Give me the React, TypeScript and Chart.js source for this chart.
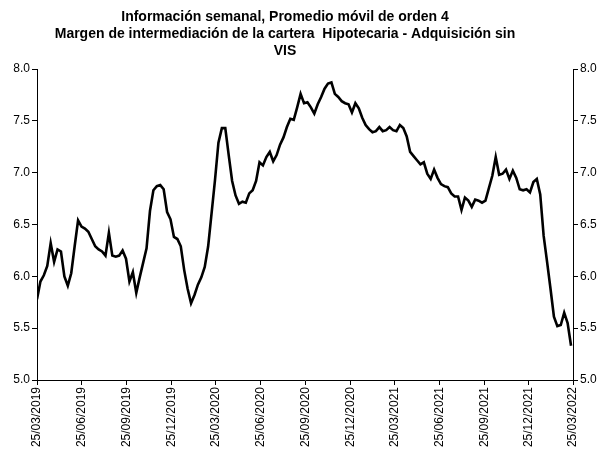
import React, { useEffect, useRef } from "react";
import { Chart, registerables } from "chart.js";

Chart.register(...registerables);

const titleLines = [
  "Información semanal, Promedio móvil de orden 4",
  "Margen de intermediación de la cartera  Hipotecaria - Adquisición sin",
  "VIS",
];

const startDate = "25/03/2019";

const tickLabels = [
  "25/03/2019", "25/06/2019", "25/09/2019", "25/12/2019",
  "25/03/2020", "25/06/2020", "25/09/2020", "25/12/2020",
  "25/03/2021", "25/06/2021", "25/09/2021", "25/12/2021",
  "25/03/2022",
];

const yTicks = [5.0, 5.5, 6.0, 6.5, 7.0, 7.5, 8.0];

// weekly values (moving average of order 4), starting 25/03/2019
const values = [
  5.78, 5.95, 6.01, 6.10, 6.32, 6.14, 6.26, 6.24, 6.00, 5.91,
  6.03, 6.29, 6.54, 6.48, 6.46, 6.43, 6.36, 6.29, 6.26, 6.24,
  6.20, 6.42, 6.20, 6.19, 6.20, 6.25, 6.17, 5.95, 6.04, 5.84,
  5.99, 6.13, 6.27, 6.63, 6.83, 6.87, 6.88, 6.84, 6.62, 6.55,
  6.38, 6.36, 6.29, 6.06, 5.88, 5.74, 5.82, 5.92, 5.99, 6.09,
  6.29, 6.61, 6.93, 7.29, 7.43, 7.43, 7.17, 6.92, 6.78, 6.70,
  6.72, 6.71, 6.80, 6.83, 6.92, 7.10, 7.07, 7.15, 7.20, 7.11,
  7.17, 7.27, 7.34, 7.44, 7.52, 7.51, 7.63, 7.76, 7.67, 7.68,
  7.63, 7.57, 7.66, 7.73, 7.81, 7.86, 7.87, 7.76, 7.73, 7.69,
  7.67, 7.66, 7.58, 7.67, 7.62, 7.53, 7.46, 7.42, 7.39, 7.40,
  7.44, 7.40, 7.41, 7.44, 7.41, 7.40, 7.46, 7.43, 7.35, 7.20,
  7.16, 7.12, 7.08, 7.10, 6.99, 6.94, 7.03, 6.95, 6.89, 6.87,
  6.86, 6.80, 6.77, 6.77, 6.64, 6.76, 6.73, 6.67, 6.74, 6.73,
  6.71, 6.73, 6.85, 6.97, 7.15, 6.98, 6.99, 7.03, 6.94, 7.02,
  6.95, 6.84, 6.83, 6.84, 6.81, 6.91, 6.94, 6.79, 6.39, 6.14,
  5.88, 5.61, 5.52, 5.53, 5.65, 5.55, 5.33,
];

const FONT = '"Liberation Sans", Arial, Helvetica, sans-serif';

function parseDate(s: string): number {
  const [d, m, y] = s.split("/").map(Number);
  return Date.UTC(y, m - 1, d);
}

const DAY = 86400000;
const start = parseDate(startDate);
const tickDays = tickLabels.map((l) => Math.round((parseDate(l) - start) / DAY));

const titlePlugin = {
  id: "customTitle",
  afterDraw(chart: any) {
    const ctx = chart.ctx;
    ctx.save();
    ctx.font = `bold 14px ${FONT}`;
    ctx.fillStyle = "#000";
    ctx.textAlign = "center";
    ctx.textBaseline = "middle";
    const cx = 277;
    titleLines.forEach((line, i) => {
      ctx.fillText(line, cx, 9 + i * 17);
    });
    ctx.restore();
  },
};

export default function App() {
  const ref = useRef<HTMLCanvasElement | null>(null);

  useEffect(() => {
    if (!ref.current) return;
    const axisCommon = {
      type: "linear" as const,
      min: 5,
      max: 8,
      afterBuildTicks: (scale: any) => {
        scale.ticks = yTicks.map((v) => ({ value: v }));
      },
      ticks: {
        color: "#000",
        font: { family: FONT, size: 12 },
        padding: 2,
        callback: (v: any) => Number(v).toFixed(1),
      },
      grid: {
        drawOnChartArea: false,
        color: "#000",
        tickLength: 5,
        lineWidth: 1,
      },
      border: { display: true, color: "#000", width: 1 },
    };

    const chart = new Chart(ref.current, {
      type: "line",
      data: {
        datasets: [
          {
            data: values.map((v, i) => ({ x: i * 7, y: v })),
            borderColor: "#000",
            borderWidth: 2.6,
            pointRadius: 0,
            tension: 0,
            fill: false,
            yAxisID: "y",
            xAxisID: "x",
          },
        ],
      },
      options: {
        animation: false,
        responsive: true,
        maintainAspectRatio: false,
        layout: { padding: { top: 61, left: 0, right: 0, bottom: 0 } },
        plugins: {
          legend: { display: false },
          title: { display: false },
          tooltip: { enabled: false },
        },
        scales: {
          x: {
            type: "linear",
            position: "bottom",
            min: 0,
            max: tickDays[tickDays.length - 1],
            afterBuildTicks: (scale: any) => {
              scale.ticks = tickDays.map((v) => ({ value: v }));
            },
            afterFit: (scale: any) => {
              scale.height = 71;
            },
            ticks: {
              color: "#000",
              font: { family: FONT, size: 12 },
              autoSkip: false,
              minRotation: 90,
              maxRotation: 90,
              padding: 2,
              callback: (value: any) => {
                const idx = tickDays.indexOf(Number(value));
                return idx >= 0 ? tickLabels[idx] : "";
              },
            },
            grid: {
              drawOnChartArea: false,
              color: "#000",
              tickLength: 5,
            },
            border: { display: true, color: "#000", width: 1 },
          },
          y: {
            ...axisCommon,
            position: "left",
            afterFit: (scale: any) => {
              scale.width = 29;
            },
          },
          y2: {
            ...axisCommon,
            position: "right",
            afterFit: (scale: any) => {
              scale.width = 24;
            },
          },
        },
      } as any,
      plugins: [titlePlugin],
    });
    return () => chart.destroy();
  }, []);

  return (
    <div style={{ position: "relative", width: 589, height: 443 }}>
      <canvas ref={ref} />
    </div>
  );
}
